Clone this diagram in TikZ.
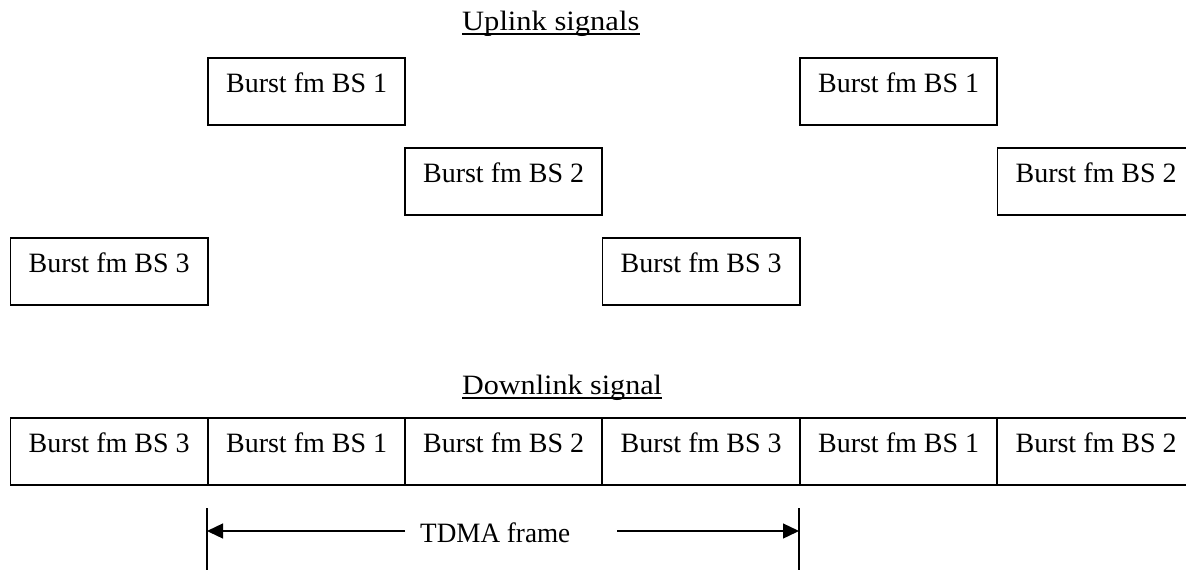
\documentclass[tikz,border=0pt]{standalone}
\usepackage{fontspec}
\setmainfont{Liberation Serif}
\usetikzlibrary{arrows.meta}
\begin{document}
\begin{tikzpicture}[x=1pt,y=-1pt,
  burst/.style={draw, line width=1.8pt, anchor=north west, inner sep=0pt,
    minimum width=197.4pt, text height=35pt, text depth=32pt,
    font=\fontsize{28}{32}\selectfont},
  title/.style={anchor=base west, inner sep=0pt, font=\fontsize{28}{32}\selectfont},
  uline/.style={line width=1.6pt},
  tick/.style={line width=1.8pt},
  dimarrow/.style={line width=1.3pt, -{Triangle[length=16pt,width=15pt]}}]
\useasboundingbox (0,0) rectangle (1186,570);
\clip (0,0) rectangle (1186,570);
% titles
\node[title] (up) at (462,30) {\scalebox{1.09}[1]{Uplink signals}};
\draw[uline] ([yshift=-4pt]up.base west) -- ([yshift=-4pt]up.base east);
\node[title] (down) at (462,394) {\scalebox{1.075}[1]{Downlink signal}};
\draw[uline] ([yshift=-4pt]down.base west) -- ([yshift=-4pt]down.base east);
% uplink bursts
\node[burst] (u1a) at (207,57) {Burst fm BS 1};
\node[burst] (u1b) at (799,57) {Burst fm BS 1};
\node[burst] (u2a) at (404,147) {Burst fm BS 2};
\node[burst] (u2b) at (996.5,147) {Burst fm BS 2};
\node[burst] (u3a) at (9.5,237) {Burst fm BS 3};
\node[burst] (u3b) at (601.5,237) {Burst fm BS 3};
% downlink
\node[burst] (d0) at (9.5,417) {Burst fm BS 3};
\node[burst] (d1) at (207,417) {Burst fm BS 1};
\node[burst] (d2) at (404,417) {Burst fm BS 2};
\node[burst] (d3) at (601.5,417) {Burst fm BS 3};
\node[burst] (d4) at (799,417) {Burst fm BS 1};
\node[burst] (d5) at (996.5,417) {Burst fm BS 2};
% TDMA frame
\coordinate (ta) at (207,508);
\coordinate (tab) at (207,570);
\coordinate (tb) at (799,508);
\coordinate (tbb) at (799,570);
\draw[tick] (ta) -- (tab);
\draw[tick] (tb) -- (tbb);
\node[title] (tdma) at (420,542) {\scalebox{0.97}[1]{TDMA frame}};
\coordinate (al) at (405,531);
\coordinate (ar) at (617,531);
\draw[dimarrow] (al) -- (ta |- al);
\draw[dimarrow] (ar) -- (tb |- ar);
\end{tikzpicture}
\end{document}
